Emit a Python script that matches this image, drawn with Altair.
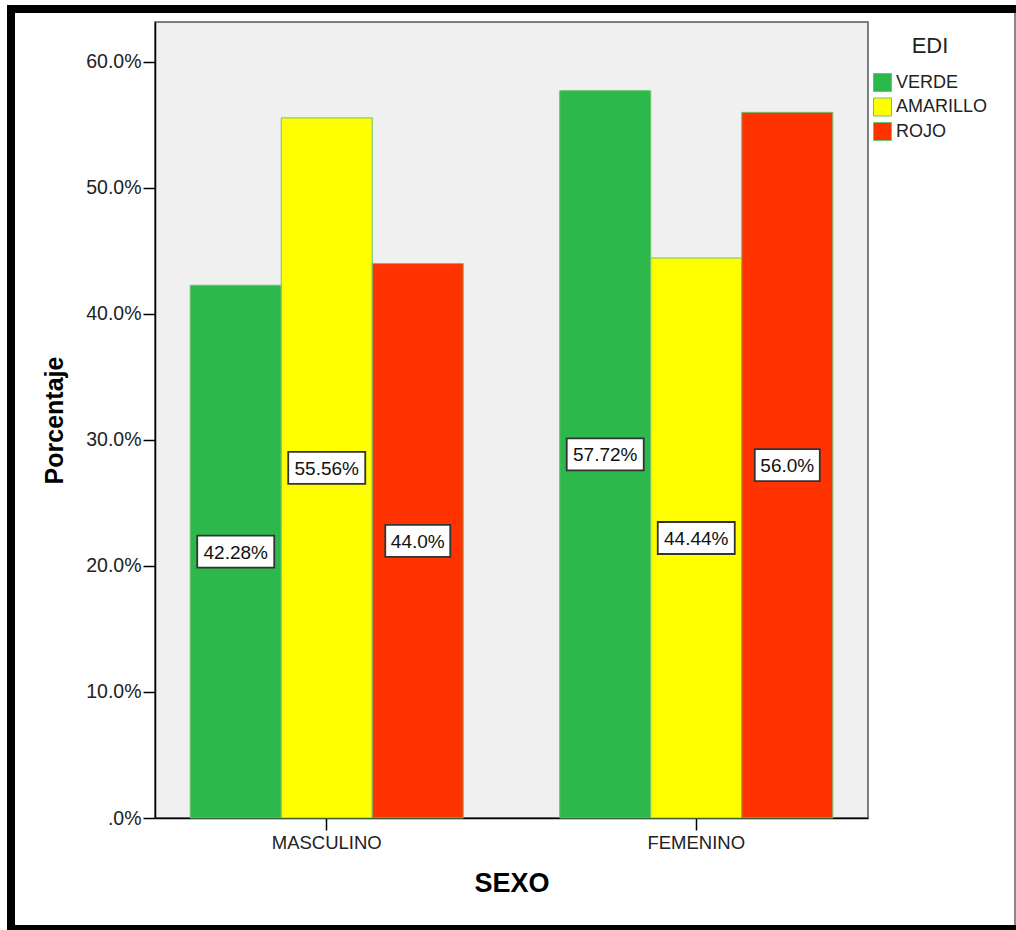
import altair as alt
import pandas as pd

sexo = ["MASCULINO", "FEMENINO"]
edi = ["VERDE", "AMARILLO", "ROJO"]
masculino = [42.28, 55.56, 44.0]
femenino = [57.72, 44.44, 56.0]
labels_m = ["42.28%", "55.56%", "44.0%"]
labels_f = ["57.72%", "44.44%", "56.0%"]
colors = ["#2DB84B", "#FFFF00", "#FF3300"]
y_ticks = [0, 10, 20, 30, 40, 50, 60]

rows = []
for s, vals, labs in [(sexo[0], masculino, labels_m), (sexo[1], femenino, labels_f)]:
    for e, v, l in zip(edi, vals, labs):
        rows.append({"SEXO": s, "EDI": e, "pct": v, "label": l, "len": str(len(l))})
df = pd.DataFrame(rows)

FONT = "Liberation Sans"
W, H = 713, 796
PL, PT = 155, 22

xenc = alt.X("SEXO:N", sort=sexo,
             scale=alt.Scale(paddingInner=0.261, paddingOuter=0.0953),
             axis=alt.Axis(title="SEXO", labelAngle=0, labelFontSize=18.5, labelFont=FONT,
                           labelColor="#222", tickSize=12, tickColor="#000", tickWidth=1.5,
                           domainColor="#000", domainWidth=1.5, labelPadding=3,
                           titleFont=FONT, titleFontSize=27, titleFontWeight="bold",
                           titleColor="#000", titlePadding=19))
xoff = alt.XOffset("EDI:N", sort=edi, scale=alt.Scale(paddingInner=0, paddingOuter=0))
yscale = alt.Scale(domain=[0, 63.17], nice=False, zero=True)

bars = alt.Chart(df).mark_bar(stroke="#6CC36C", strokeWidth=1).encode(
    x=xenc,
    xOffset=xoff,
    y=alt.Y("pct:Q", scale=yscale,
            axis=alt.Axis(title="Porcentaje", values=y_ticks, grid=False,
                          labelExpr="datum.value == 0 ? '.0%' : format(datum.value, '.1f') + '%'",
                          labelFontSize=19.5, labelFont=FONT, labelColor="#222",
                          tickSize=12, tickColor="#000", tickWidth=1.5,
                          domainColor="#000", domainWidth=1.5, labelPadding=2,
                          titleFont=FONT, titleFontSize=25, titleFontWeight="bold",
                          titleColor="#000", titlePadding=18)),
    color=alt.Color("EDI:N", sort=edi, scale=alt.Scale(domain=edi, range=colors),
                    legend=alt.Legend(title="EDI", orient="none", legendX=718, legendY=14,
                                      titleFont=FONT, titleFontSize=22, titleFontWeight="normal",
                                      titleColor="#222", titleAnchor="middle", titleAlign="center",
                                      titlePadding=15,
                                      labelFont=FONT, labelFontSize=18, labelColor="#222",
                                      symbolType="square", symbolSize=324,
                                      symbolStrokeColor="#6CC36C", symbolStrokeWidth=1,
                                      rowPadding=1.5, labelOffset=4)),
)

box6 = "M-38.5,-16H38.5V16H-38.5Z"
box5 = "M-32.5,-16H32.5V16H-32.5Z"

boxes = alt.Chart(df).transform_calculate(mid="datum.pct / 2").mark_point(
    filled=True, fill="white", stroke="#333", strokeWidth=1.8, size=4, opacity=1
).encode(
    x=alt.X("SEXO:N", sort=sexo),
    xOffset=xoff,
    y=alt.Y("mid:Q", scale=yscale),
    shape=alt.Shape("len:N", scale=alt.Scale(domain=["6", "5"], range=[box6, box5]), legend=None),
)

texts = alt.Chart(df).transform_calculate(mid="datum.pct / 2").mark_text(
    font=FONT, fontSize=19, color="#111", baseline="middle", align="center", dy=1
).encode(
    x=alt.X("SEXO:N", sort=sexo),
    xOffset=xoff,
    y=alt.Y("mid:Q", scale=yscale),
    text="label:N",
)

frame_df = pd.DataFrame({"k": [0]})
base = alt.Chart(frame_df)
top_band = base.mark_rect(color="#000").encode(
    x=alt.value(7 - PL), x2=alt.value(1016 - PL), y=alt.value(5 - PT), y2=alt.value(13 - PT))
left_band = base.mark_rect(color="#000").encode(
    x=alt.value(7 - PL), x2=alt.value(15 - PL), y=alt.value(5 - PT), y2=alt.value(930 - PT))
bottom_band = base.mark_rect(color="#000").encode(
    x=alt.value(7 - PL), x2=alt.value(1016 - PL), y=alt.value(925 - PT), y2=alt.value(932 - PT))
right_line = base.mark_rect(color="#888").encode(
    x=alt.value(1014 - PL), x2=alt.value(1016 - PL), y=alt.value(13 - PT), y2=alt.value(925 - PT))

chart = alt.layer(bars, boxes, texts, top_band, left_band, bottom_band, right_line).properties(
    width=W, height=H,
    autosize=alt.AutoSizeParams(type="none"),
    padding={"left": PL, "top": PT, "right": 1016 - PL - W, "bottom": 930 - PT - H},
    background="white",
).configure_view(fill="#F0F0F0", stroke="#555", strokeWidth=1.5)

chart.save("out.html", embed_options={"renderer": "svg", "actions": False})
